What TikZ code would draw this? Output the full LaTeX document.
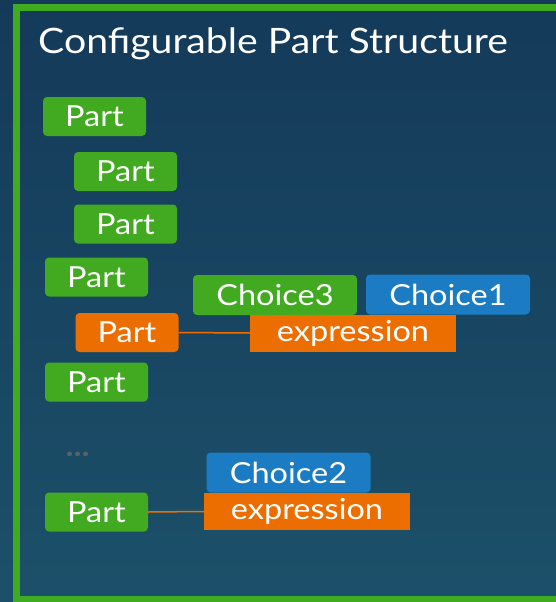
\documentclass[tikz,border=0pt]{standalone}
\usepackage{fontspec}
\setmainfont{Lato}[FakeStretch=1.12]
\definecolor{bgtop}{HTML}{143A59}
\definecolor{bgbot}{HTML}{1C5069}
\definecolor{frgreen}{HTML}{3FAB21}
\definecolor{bxgreen}{HTML}{41AA20}
\definecolor{bxblue}{HTML}{1C7CC3}
\definecolor{bxorange}{HTML}{EC6E00}
\definecolor{dotgray}{HTML}{5A6068}
\tikzset{
  box/.style={inner sep=0pt, text=white, font=\fontsize{29}{30}\selectfont, anchor=center},
  partg/.style={box, fill=bxgreen, rounded corners=4pt, minimum width=103pt, minimum height=39pt},
  parto/.style={box, fill=bxorange, rounded corners=4pt, minimum width=103pt, minimum height=39pt},
  choiceg/.style={box, fill=bxgreen, rounded corners=4pt, minimum width=164pt, minimum height=40pt},
  choiceb/.style={box, fill=bxblue, rounded corners=4pt, minimum width=164pt, minimum height=40pt},
  expr/.style={box, fill=bxorange, minimum width=206pt, minimum height=37pt},
  link/.style={draw=bxorange, line width=1.5pt},
}
\begin{document}
\begin{tikzpicture}[x=1pt,y=-1pt]
\shade[top color=bgtop, bottom color=bgbot] (0,0) rectangle (556,602);
\useasboundingbox (0,0) rectangle (556,602);
\draw[frgreen, line width=7pt] (570,7.5) -- (16.5,7.5) -- (16.5,599.5) -- (570,599.5);
\node[anchor=base west, text=white, inner sep=0pt, font=\fontsize{35}{36}\selectfont] (title) at (38,53) {Configurable Part Structure};
\node[partg] (p1) at (94.5,116.5) {Part};
\node[partg] (p2) at (125.5,171.5) {Part};
\node[partg] (p3) at (125.5,224) {Part};
\node[partg] (p4) at (96.5,277) {Part};
\node[parto] (p5) at (127,332.5) {Part};
\node[partg] (p6) at (96.5,382) {Part};
\node[text=dotgray, inner sep=0pt, anchor=base, font=\fontsize{30}{30}\bfseries\selectfont] (dots) at (77.5,456) {...};
\node[partg] (p7) at (96.5,512) {Part};
\node[choiceg] (c3) at (275,295) {Choice3};
\node[choiceb] (c1) at (448,294.5) {Choice1};
\node[expr] (e1) at (353,333) {expression};
\node[choiceb] (c2) at (288.5,472.5) {Choice2};
\node[expr] (e2) at (307,511.5) {expression};
\draw[link] (p5.east) -- (e1.west);
\draw[link] (p7.east) -- (e2.west);
\end{tikzpicture}
\end{document}
